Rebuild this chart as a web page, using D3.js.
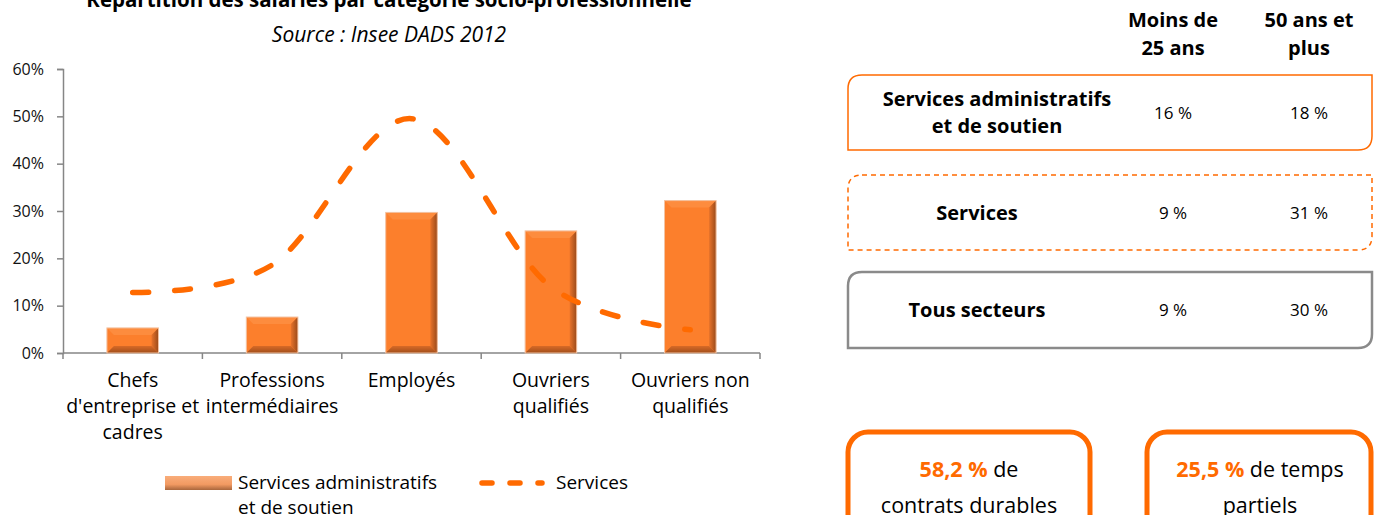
<!DOCTYPE html>
<html>
<head>
<meta charset="utf-8">
<script src="https://cdn.jsdelivr.net/npm/d3@7"></script>
<style>
  body { margin: 0; background: #fff; }
  svg { display: block; font-family: "Open Sans", Lato, sans-serif; }
  .axis path, .axis line { stroke: #868686; stroke-width: 1.5; }
  .axis text { font-size: 16px; fill: #111; font-family: "Open Sans", sans-serif; }
</style>
</head>
<body>
<div id="chart"></div>
<script>
// --- data ---
const categories = ["Chefs d'entreprise et cadres", "Professions intermédiaires", "Employés", "Ouvriers qualifiés", "Ouvriers non qualifiés"];
const categoryLines = [["Chefs", "d'entreprise et", "cadres"], ["Professions", "intermédiaires"], ["Employés"], ["Ouvriers", "qualifiés"], ["Ouvriers non", "qualifiés"]];
const servAdmin = [5.3, 7.6, 29.7, 25.8, 32.2];   // bars
const services = [12.8, 18.6, 49.5, 14.0, 4.9];   // dashed line
const yTicks = [0, 10, 20, 30, 40, 50, 60];

const tableCols = [["Moins de", "25 ans"], ["50 ans et", "plus"]];
const tableRows = [["Services administratifs", "et de soutien"], ["Services"], ["Tous secteurs"]];
const moins25 = [16, 9, 9];
const plus50 = [18, 31, 30];

const keyValues = ["58,2 %", "25,5 %"];
const keyText = [[" de", "contrats durables"], [" de temps", "partiels"]];

const W = 1374, H = 515;
const orange = "#ff6a00";

const svg = d3.select("#chart").append("svg")
  .attr("width", W).attr("height", H);

// gradients for the bevelled bars
const defs = svg.append("defs");
const gRight = defs.append("linearGradient").attr("id", "bevR").attr("x1", 0).attr("x2", 1);
gRight.append("stop").attr("offset", 0).attr("stop-color", "#e8732a");
gRight.append("stop").attr("offset", 1).attr("stop-color", "#9a4a1a");
const gBot = defs.append("linearGradient").attr("id", "bevB").attr("x1", 0).attr("x2", 0).attr("y1", 0).attr("y2", 1);
gBot.append("stop").attr("offset", 0).attr("stop-color", "#d86a26");
gBot.append("stop").attr("offset", 1).attr("stop-color", "#a04e1c");
const gLeg = defs.append("linearGradient").attr("id", "legG").attr("x1", 0).attr("x2", 0).attr("y1", 0).attr("y2", 1);
gLeg.append("stop").attr("offset", 0).attr("stop-color", "#f9ad7a");
gLeg.append("stop").attr("offset", 0.6).attr("stop-color", "#f29a62");
gLeg.append("stop").attr("offset", 1).attr("stop-color", "#a9663c");

// --- titles ---
svg.append("text")
  .attr("x", 389).attr("y", 7)
  .attr("text-anchor", "middle")
  .style("font-size", "20.5px").style("font-weight", "bold")
  .text("Répartition des salariés par catégorie socio-professionnelle");
svg.append("text")
  .attr("x", 389).attr("y", 42)
  .attr("text-anchor", "middle")
  .style("font-size", "21px").style("font-style", "italic")
  .text("Source : Insee DADS 2012");

// --- scales ---
const x = d3.scaleBand().domain(categories).range([63, 760]).padding(0);
const y = d3.scaleLinear().domain([0, 60]).range([353, 69]);
const barW = x.bandwidth() * 0.37;

// y axis
svg.append("g")
  .attr("class", "axis")
  .attr("transform", "translate(63,0)")
  .call(d3.axisLeft(y).tickValues(yTicks).tickFormat(d => d + "%").tickSize(6).tickSizeOuter(6).tickPadding(13));

// x axis (ticks on category boundaries)
const xAxis = svg.append("g").attr("class", "axis");
xAxis.append("line")
  .attr("x1", x.range()[0]).attr("x2", x.range()[1])
  .attr("y1", y(0)).attr("y2", y(0));
const bounds = categories.map(c => x(c)).concat([x.range()[1]]);
xAxis.selectAll(".xt").data(bounds)
  .enter().append("line")
  .attr("x1", d => d).attr("x2", d => d)
  .attr("y1", y(0)).attr("y2", y(0) + 6);

const xl = svg.selectAll(".xlabel").data(categories)
  .enter().append("text")
  .attr("class", "xlabel")
  .attr("text-anchor", "middle")
  .style("font-size", "19.5px");
xl.each(function(d, i) {
  d3.select(this).selectAll("tspan").data(categoryLines[i])
    .enter().append("tspan")
    .attr("x", x(d) + x.bandwidth() / 2)
    .attr("y", (t, j) => 387 + j * 26)
    .text(t => t);
});

// --- bars ---
const bev = 7;
const bars = svg.selectAll(".bar").data(categories)
  .enter().append("g").attr("class", "bar");
bars.each(function(d, i) {
  const g = d3.select(this);
  const x0 = x(d) + (x.bandwidth() - barW) / 2, x1 = x0 + barW;
  const y0 = y(servAdmin[i]), y1 = y(0);
  const b = Math.min(bev, (y1 - y0) / 2);
  g.append("rect")
    .attr("x", x0).attr("y", y0).attr("width", barW).attr("height", y1 - y0)
    .attr("fill", "#fc7f2c");
  g.append("polygon")   // top light edge
    .attr("points", [[x0, y0], [x1, y0], [x1 - b, y0 + b], [x0 + b, y0 + b]].join(" "))
    .attr("fill", "#fd8c3e");
  g.append("polygon")   // right dark edge
    .attr("points", [[x1, y0], [x1, y1], [x1 - b, y1 - b], [x1 - b, y0 + b]].join(" "))
    .attr("fill", "url(#bevR)");
  g.append("polygon")   // bottom dark edge
    .attr("points", [[x0, y1], [x1, y1], [x1 - b, y1 - b], [x0 + b, y1 - b]].join(" "))
    .attr("fill", "url(#bevB)");
  g.append("rect")
    .attr("x", x0).attr("y", y0).attr("width", barW).attr("height", y1 - y0)
    .attr("fill", "none").attr("stroke", "#f3c3a3").attr("stroke-width", 1);
});

// --- smoothed dashed line ---
const line = d3.line()
  .x((d, i) => x(categories[i]) + x.bandwidth() / 2)
  .y(d => y(d))
  .curve(d3.curveCardinal.tension(0));
svg.append("path")
  .datum(services)
  .attr("d", line)
  .attr("fill", "none")
  .attr("stroke", orange)
  .attr("stroke-width", 5.5)
  .attr("stroke-linecap", "round")
  .attr("stroke-dasharray", "16,26");

// --- legend ---
const leg = svg.append("g").style("font-size", "19px");
leg.append("rect")
  .attr("x", 165).attr("y", 476).attr("width", 67).attr("height", 14)
  .attr("fill", "url(#legG)");
leg.append("text").attr("x", 238).attr("y", 489).text("Services administratifs");
leg.append("text").attr("x", 238).attr("y", 514).text("et de soutien");
leg.append("line")
  .attr("x1", 482).attr("x2", 542).attr("y1", 483).attr("y2", 483)
  .attr("stroke", orange).attr("stroke-width", 5.5)
  .attr("stroke-linecap", "round").attr("stroke-dasharray", "10,18");
leg.append("text").attr("x", 556).attr("y", 489).text("Services");

// --- right table ---
const colX = [1173, 1309];
const rowLabelX = [997, 977, 977];
const rowBox = [
  {y: 75, h: 75, stroke: orange, width: 1.5, dash: null},
  {y: 175, h: 75, stroke: orange, width: 1.5, dash: "5,4"},
  {y: 272, h: 76, stroke: "#8a8a8a", width: 2.5, dash: null}
];
function diagBox(x0, y0, w, h, r) {
  // rounded top-left and bottom-right corners
  return `M${x0 + r},${y0} H${x0 + w} V${y0 + h - r} Q${x0 + w},${y0 + h} ${x0 + w - r},${y0 + h} H${x0} V${y0 + r} Q${x0},${y0} ${x0 + r},${y0} Z`;
}
const tbl = svg.append("g").style("font-size", "20px");
tableCols.forEach((c, j) => {
  c.forEach((t, k) => {
    tbl.append("text").attr("x", colX[j]).attr("y", 27 + k * 28)
      .attr("text-anchor", "middle").style("font-weight", "bold").text(t);
  });
});
tableRows.forEach((r, i) => {
  const b = rowBox[i];
  tbl.append("path")
    .attr("d", diagBox(848, b.y, 524, b.h, 14))
    .attr("fill", "none").attr("stroke", b.stroke).attr("stroke-width", b.width)
    .attr("stroke-dasharray", b.dash);
  const cy = b.y + b.h / 2;
  r.forEach((t, k) => {
    tbl.append("text").attr("x", rowLabelX[i])
      .attr("y", cy + 7 + (k - (r.length - 1) / 2) * 27)
      .attr("text-anchor", "middle").style("font-weight", "bold").text(t);
  });
  [moins25[i], plus50[i]].forEach((v, j) => {
    tbl.append("text").attr("x", colX[j]).attr("y", cy + 6)
      .attr("text-anchor", "middle").style("font-size", "17px").text(v + " %");
  });
});

// --- key figure boxes ---
const keyBox = [{x: 848, w: 242, cx: 969}, {x: 1147, w: 224, cx: 1260}];
keyValues.forEach((v, i) => {
  const b = keyBox[i];
  svg.append("rect")
    .attr("x", b.x).attr("y", 432).attr("width", b.w).attr("height", 120)
    .attr("rx", 20).attr("fill", "none").attr("stroke", orange).attr("stroke-width", 5);
  const t = svg.append("text").attr("x", b.cx).attr("y", 477)
    .attr("text-anchor", "middle").style("font-size", "21.5px");
  t.append("tspan").style("fill", orange).style("font-weight", "bold").text(v);
  t.append("tspan").text(keyText[i][0]);
  svg.append("text").attr("x", b.cx).attr("y", 513)
    .attr("text-anchor", "middle").style("font-size", "21.5px").text(keyText[i][1]);
});
</script>
</body>
</html>
